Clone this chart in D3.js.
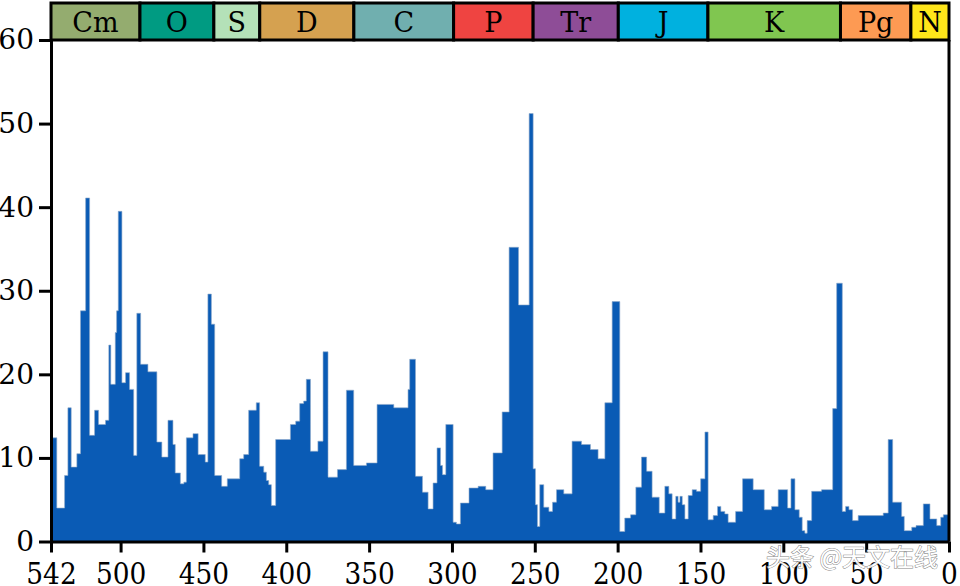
<!DOCTYPE html>
<html>
<head>
<meta charset="utf-8">
<script src="https://cdn.jsdelivr.net/npm/d3@7"></script>
<style>
  html, body { margin: 0; padding: 0; background: #fff; }
  svg { display: block; }
</style>
</head>
<body>
<div id="chart"></div>
<script>
// bin start ages (Ma); each bin ends where the next one starts, the last ends at 0
const binStart = [
  542, 538.5, 533.8, 531.8, 529.8, 526.4, 524.2, 521.1, 518.7, 515.7,
  513.3, 509.1, 507.1, 505.9, 503.2, 502.4, 501.4, 499.2, 497.0, 494.6,
  492.1, 490.2, 487.9, 483.5, 478.1, 475.1, 471.4, 468.4, 467.0, 463.9,
  461.8, 460.3, 456.3, 453.2, 448.9, 447.3, 445.2, 443.2, 439.0, 435.6,
  428.1, 425.7, 422.7, 418.1, 416.1, 413.6, 412.0, 410.6, 409.0, 406.4,
  397.5, 394.3, 391.9, 389.5, 387.9, 385.4, 380.9, 377.8, 374.8, 369.1,
  363.7, 359.3, 351.6, 345.2, 335.1, 326.5, 325.5, 322.0, 317.8, 314.4,
  311.4, 309.0, 306.9, 305.7, 303.7, 299.3, 297.3, 294.9, 289.7, 284.2,
  279.6, 275.2, 269.7, 265.5, 259.8, 253.4, 251.0, 249.6, 248.4, 247.0,
  244.6, 241.5, 239.3, 236.9, 232.5, 227.5, 221.8, 216.4, 211.8, 207.7,
  203.3, 198.7, 195.7, 192.2, 189.0, 185.6, 182.5, 179.2, 174.9, 171.5,
  169.1, 167.1, 164.9, 163.5, 162.4, 161.0, 159.4, 157.4, 155.0, 152.4,
  149.9, 147.3, 145.4, 142.3, 139.7, 137.7, 135.3, 133.3, 128.8, 124.6,
  118.2, 111.5, 107.1, 103.1, 97.4, 95.4, 93.0, 90.4, 88.6, 87.0,
  85.6, 82.9, 76.9, 70.2, 67.8, 64.4, 62.4, 60.4, 58.2, 54.8,
  39.7, 36.7, 34.0, 28.6, 27.0, 22.5, 19.9, 15.5, 11.5, 7.4,
  5.0, 3.4
];

// extinction intensity (%) for each bin
const extinction = [
  12.4, 4.0, 7.9, 16.0, 8.9, 10.5, 27.6, 41.1, 12.7, 15.7,
  14.0, 14.5, 23.5, 18.8, 25.0, 27.6, 39.5, 19.0, 20.2, 18.2,
  10.3, 27.3, 21.2, 20.3, 11.9, 10.1, 14.5, 11.6, 8.2, 6.9,
  7.1, 12.4, 12.9, 10.4, 9.5, 29.6, 26.0, 7.9, 6.6, 7.5,
  9.9, 10.4, 15.7, 16.6, 9.0, 8.3, 7.3, 6.8, 4.3, 12.2,
  14.0, 14.4, 16.5, 16.8, 19.4, 10.8, 12.0, 22.7, 7.7, 8.6,
  18.1, 9.1, 9.4, 16.4, 16.0, 18.2, 21.8, 7.8, 5.9, 3.9,
  7.0, 11.2, 9.1, 8.0, 14.0, 2.3, 2.1, 4.6, 6.4, 6.6,
  6.2, 10.6, 15.5, 35.2, 28.3, 51.2, 8.7, 4.4, 1.8, 6.8,
  4.1, 3.6, 4.7, 6.2, 5.7, 12.0, 11.6, 11.0, 9.9, 16.6,
  28.7, 1.2, 2.8, 3.2, 6.5, 10.1, 8.4, 5.3, 3.4, 6.6,
  5.7, 2.7, 5.4, 4.7, 5.4, 4.4, 2.7, 5.5, 6.2, 6.0,
  7.5, 13.1, 2.6, 3.1, 4.2, 3.6, 3.3, 2.3, 3.6, 7.5,
  6.2, 3.8, 4.2, 6.2, 4.0, 7.5, 3.8, 2.9, 1.3, 1.0,
  2.5, 6.0, 6.2, 15.9, 30.9, 3.6, 4.2, 3.8, 2.5, 3.1,
  3.4, 12.2, 4.7, 3.0, 1.3, 1.7, 1.9, 4.5, 2.7, 1.9,
  2.9, 3.2
];

// geological periods
const periodNames = ['Cm', 'O', 'S', 'D', 'C', 'P', 'Tr', 'J', 'K', 'Pg', 'N'];
const periodStart = [542, 488.3, 443.7, 416, 359.2, 299, 251, 199.6, 145.5, 65.5, 23];
const periodColors = ['#94ac6f', '#009b82', '#b4e1b8', '#d5a150', '#70afaf', '#ef4441',
                      '#8e4d97', '#00b1df', '#80c650', '#fd9a53', '#ffe61a'];

const xTicks = [542, 500, 450, 400, 350, 300, 250, 200, 150, 100, 50, 0];
const yTicks = [0, 10, 20, 30, 40, 50, 60];

const width = 960;
const height = 586;
const plot = { left: 51, right: 949, top: 40, bottom: 541.5 };

const x = d3.scaleLinear().domain([542, 0]).range([plot.left, plot.right]);
const y = d3.scaleLinear().domain([0, 60]).range([plot.bottom, plot.top]);

// step points: one per bin start, plus the closing edge at 0 Ma
const steps = binStart.map((s, i) => ({ age: s, value: extinction[i] }));
steps.push({ age: 0, value: extinction[extinction.length - 1] });

const periods = periodNames.map((n, i) => ({
  name: n,
  start: periodStart[i],
  end: i + 1 < periodStart.length ? periodStart[i + 1] : 0,
  color: periodColors[i]
}));

const svg = d3.select('#chart').append('svg')
  .attr('width', width)
  .attr('height', height);

// histogram as one stepped area
const area = d3.area()
  .x(d => x(d.age))
  .y0(y(0))
  .y1(d => y(d.value))
  .curve(d3.curveStepAfter);

svg.append('path')
  .datum(steps)
  .attr('d', area)
  .attr('fill', '#0a5bb5')
  .attr('stroke', '#8ea9c9')
  .attr('stroke-width', 0.6);

// period band
const band = svg.append('g');
band.selectAll('rect')
  .data(periods)
  .enter().append('rect')
  .attr('x', d => x(d.start))
  .attr('width', d => x(d.end) - x(d.start))
  .attr('y', 3)
  .attr('height', plot.top - 3)
  .attr('fill', d => d.color)
  .attr('stroke', '#000')
  .attr('stroke-width', 3);

band.selectAll('text')
  .data(periods)
  .enter().append('text')
  .attr('x', d => (x(d.start) + x(d.end)) / 2)
  .attr('y', 32)
  .attr('text-anchor', 'middle')
  .attr('font-family', 'DejaVu Serif')
  .attr('font-size', 27)
  .attr('fill', '#000')
  .text(d => d.name);

// right spine
svg.append('line')
  .attr('x1', plot.right).attr('x2', plot.right)
  .attr('y1', plot.top).attr('y2', plot.bottom)
  .attr('stroke', '#000')
  .attr('stroke-width', 3);

// y axis
const yAxis = svg.append('g')
  .attr('transform', `translate(${plot.left},0)`)
  .call(d3.axisLeft(y).tickValues(yTicks).tickSize(12).tickSizeOuter(0).tickPadding(5));
yAxis.selectAll('text')
  .attr('font-family', 'DejaVu Serif')
  .attr('font-size', 28)
  .attr('fill', '#000');

// x axis
const xAxis = svg.append('g')
  .attr('transform', `translate(0,${plot.bottom})`)
  .call(d3.axisBottom(x).tickValues(xTicks).tickFormat(d3.format('d')).tickSize(11).tickSizeOuter(0));
xAxis.selectAll('text')
  .attr('font-family', 'DejaVu Serif')
  .attr('font-size', 30)
  .attr('fill', '#000')
  .attr('y', 43)
  .attr('dy', 0)
  .attr('transform', 'scale(0.88,1)');

svg.selectAll('.domain, .tick line')
  .attr('stroke', '#000')
  .attr('stroke-width', 3);

// watermark
svg.append('text')
  .attr('x', 766)
  .attr('y', 566)
  .attr('font-family', 'Noto Sans CJK SC')
  .attr('font-size', 24)
  .attr('fill', '#fff')
  .attr('stroke', '#777')
  .attr('stroke-width', 1)
  .attr('paint-order', 'stroke')
  .attr('opacity', 0.9)
  .text('头条 @天文在线');
</script>
</body>
</html>
